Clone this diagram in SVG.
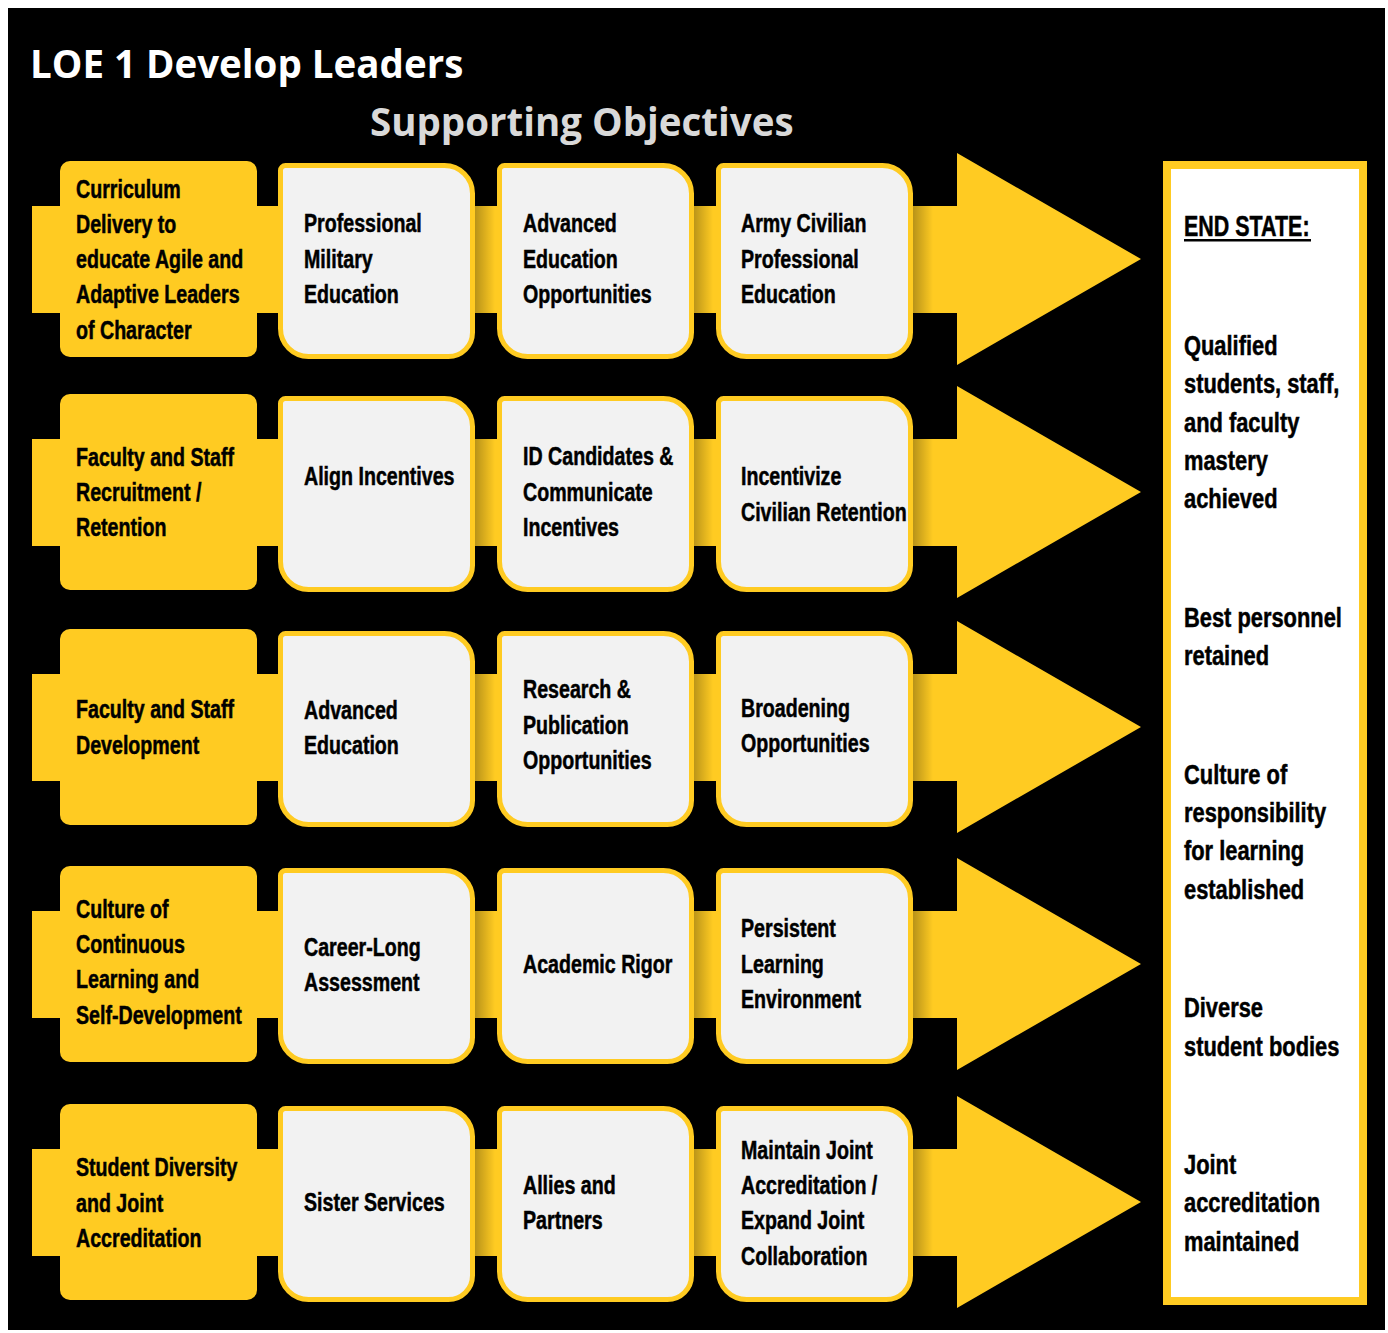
<svg xmlns="http://www.w3.org/2000/svg" width="1388" height="1333" viewBox="0 0 1388 1333">
<defs>
<style>
.bg{fill:#000}
.yl{fill:#FFCB22}
.wb{fill:#F2F2F2;stroke:#FFCB22;stroke-width:5}
.t{font-family:"Liberation Sans",Arial,sans-serif;font-weight:700;font-size:25px;fill:#000;stroke:#000;stroke-width:0.5px}
.e{font-family:"Liberation Sans",Arial,sans-serif;font-weight:700;font-size:27px;fill:#000;stroke:#000;stroke-width:0.5px}
.h{font-family:"Open Sans","Noto Sans","Liberation Sans",sans-serif;font-weight:700;font-size:38.5px}
</style>
<linearGradient id="sh" x1="0" y1="0" x2="1" y2="0">
<stop offset="0" stop-color="#000" stop-opacity="0.28"/>
<stop offset="1" stop-color="#000" stop-opacity="0"/>
</linearGradient>
<path id="box" d="M5,0 H164 A28,28 0 0 1 192,28 V167 A24,24 0 0 1 168,191 H28 A28,28 0 0 1 0,163 V5 A5,5 0 0 1 5,0 Z"/>
<path id="arr" d="M32,45 H957 V-8 L1141,98 L957,204 V152 H32 Z"/>
</defs>
<rect x="0" y="0" width="1388" height="1333" fill="#fff"/>
<rect class="bg" x="8" y="8" width="1377" height="1322"/>
<text class="h" x="30" y="78" fill="#fff">LOE 1 Develop Leaders</text>
<text class="h" x="370" y="136" fill="#D9D9D9">Supporting Objectives</text>

<g id="connectors">
<use href="#arr" class="yl" transform="translate(0,161)"/>
<use href="#arr" class="yl" transform="translate(0,394)"/>
<use href="#arr" class="yl" transform="translate(0,629)"/>
<use href="#arr" class="yl" transform="translate(0,866)"/>
<use href="#arr" class="yl" transform="translate(0,1104)"/>
<g fill="url(#sh)">
<rect x="475" y="206" width="20" height="107"/><rect x="693" y="206" width="20" height="107"/><rect x="913" y="206" width="20" height="107"/>
<rect x="475" y="439" width="20" height="107"/><rect x="693" y="439" width="20" height="107"/><rect x="913" y="439" width="20" height="107"/>
<rect x="475" y="674" width="20" height="107"/><rect x="693" y="674" width="20" height="107"/><rect x="913" y="674" width="20" height="107"/>
<rect x="475" y="911" width="20" height="107"/><rect x="693" y="911" width="20" height="107"/><rect x="913" y="911" width="20" height="107"/>
<rect x="475" y="1149" width="20" height="107"/><rect x="693" y="1149" width="20" height="107"/><rect x="913" y="1149" width="20" height="107"/>
</g>
</g>

<!-- Row 1 -->
<g id="row1-goal"><rect class="yl" x="60" y="161" width="197" height="196" rx="10"/>
<g transform="translate(76,0) scale(0.785,1)"><text class="t"><tspan x="0" y="198">Curriculum</tspan><tspan x="0" y="233">Delivery to</tspan><tspan x="0" y="268">educate Agile and</tspan><tspan x="0" y="303">Adaptive Leaders</tspan><tspan x="0" y="339">of Character</tspan></text></g></g>
<g id="row1-a"><use href="#box" class="wb" transform="translate(280.5,165.5)"/>
<g transform="translate(304,0) scale(0.785,1)"><text class="t"><tspan x="0" y="232">Professional</tspan><tspan x="0" y="268">Military</tspan><tspan x="0" y="303">Education</tspan></text></g></g>
<g id="row1-b"><use href="#box" class="wb" transform="translate(499.5,165.5)"/>
<g transform="translate(523,0) scale(0.785,1)"><text class="t"><tspan x="0" y="232">Advanced</tspan><tspan x="0" y="268">Education</tspan><tspan x="0" y="303">Opportunities</tspan></text></g></g>
<g id="row1-c"><use href="#box" class="wb" transform="translate(718.5,165.5)"/>
<g transform="translate(741,0) scale(0.785,1)"><text class="t"><tspan x="0" y="232">Army Civilian</tspan><tspan x="0" y="268">Professional</tspan><tspan x="0" y="303">Education</tspan></text></g></g>

<!-- Row 2 -->
<g id="row2-goal"><rect class="yl" x="60" y="394" width="197" height="196" rx="10"/>
<g transform="translate(76,0) scale(0.785,1)"><text class="t"><tspan x="0" y="466">Faculty and Staff</tspan><tspan x="0" y="501">Recruitment /</tspan><tspan x="0" y="536">Retention</tspan></text></g></g>
<g id="row2-a"><use href="#box" class="wb" transform="translate(280.5,398.5)"/>
<g transform="translate(304,0) scale(0.785,1)"><text class="t"><tspan x="0" y="485">Align Incentives</tspan></text></g></g>
<g id="row2-b"><use href="#box" class="wb" transform="translate(499.5,398.5)"/>
<g transform="translate(523,0) scale(0.785,1)"><text class="t"><tspan x="0" y="465">ID Candidates &amp;</tspan><tspan x="0" y="501">Communicate</tspan><tspan x="0" y="536">Incentives</tspan></text></g></g>
<g id="row2-c"><use href="#box" class="wb" transform="translate(718.5,398.5)"/>
<g transform="translate(741,0) scale(0.785,1)"><text class="t"><tspan x="0" y="485">Incentivize</tspan><tspan x="0" y="521">Civilian Retention</tspan></text></g></g>

<!-- Row 3 -->
<g id="row3-goal"><rect class="yl" x="60" y="629" width="197" height="196" rx="10"/>
<g transform="translate(76,0) scale(0.785,1)"><text class="t"><tspan x="0" y="718">Faculty and Staff</tspan><tspan x="0" y="754">Development</tspan></text></g></g>
<g id="row3-a"><use href="#box" class="wb" transform="translate(280.5,633.5)"/>
<g transform="translate(304,0) scale(0.785,1)"><text class="t"><tspan x="0" y="719">Advanced</tspan><tspan x="0" y="754">Education</tspan></text></g></g>
<g id="row3-b"><use href="#box" class="wb" transform="translate(499.5,633.5)"/>
<g transform="translate(523,0) scale(0.785,1)"><text class="t"><tspan x="0" y="698">Research &amp;</tspan><tspan x="0" y="734">Publication</tspan><tspan x="0" y="769">Opportunities</tspan></text></g></g>
<g id="row3-c"><use href="#box" class="wb" transform="translate(718.5,633.5)"/>
<g transform="translate(741,0) scale(0.785,1)"><text class="t"><tspan x="0" y="717">Broadening</tspan><tspan x="0" y="752">Opportunities</tspan></text></g></g>

<!-- Row 4 -->
<g id="row4-goal"><rect class="yl" x="60" y="866" width="197" height="196" rx="10"/>
<g transform="translate(76,0) scale(0.785,1)"><text class="t"><tspan x="0" y="918">Culture of</tspan><tspan x="0" y="953">Continuous</tspan><tspan x="0" y="988">Learning and</tspan><tspan x="0" y="1024">Self-Development</tspan></text></g></g>
<g id="row4-a"><use href="#box" class="wb" transform="translate(280.5,870.5)"/>
<g transform="translate(304,0) scale(0.785,1)"><text class="t"><tspan x="0" y="956">Career-Long</tspan><tspan x="0" y="991">Assessment</tspan></text></g></g>
<g id="row4-b"><use href="#box" class="wb" transform="translate(499.5,870.5)"/>
<g transform="translate(523,0) scale(0.785,1)"><text class="t"><tspan x="0" y="973">Academic Rigor</tspan></text></g></g>
<g id="row4-c"><use href="#box" class="wb" transform="translate(718.5,870.5)"/>
<g transform="translate(741,0) scale(0.785,1)"><text class="t"><tspan x="0" y="937">Persistent</tspan><tspan x="0" y="973">Learning</tspan><tspan x="0" y="1008">Environment</tspan></text></g></g>

<!-- Row 5 -->
<g id="row5-goal"><rect class="yl" x="60" y="1104" width="197" height="196" rx="10"/>
<g transform="translate(76,0) scale(0.785,1)"><text class="t"><tspan x="0" y="1176">Student Diversity</tspan><tspan x="0" y="1212">and Joint</tspan><tspan x="0" y="1247">Accreditation</tspan></text></g></g>
<g id="row5-a"><use href="#box" class="wb" transform="translate(280.5,1108.5)"/>
<g transform="translate(304,0) scale(0.785,1)"><text class="t"><tspan x="0" y="1211">Sister Services</tspan></text></g></g>
<g id="row5-b"><use href="#box" class="wb" transform="translate(499.5,1108.5)"/>
<g transform="translate(523,0) scale(0.785,1)"><text class="t"><tspan x="0" y="1194">Allies and</tspan><tspan x="0" y="1229">Partners</tspan></text></g></g>
<g id="row5-c"><use href="#box" class="wb" transform="translate(718.5,1108.5)"/>
<g transform="translate(741,0) scale(0.785,1)"><text class="t"><tspan x="0" y="1159">Maintain Joint</tspan><tspan x="0" y="1194">Accreditation /</tspan><tspan x="0" y="1229">Expand Joint</tspan><tspan x="0" y="1265">Collaboration</tspan></text></g></g>

<!-- End state -->
<g id="end-state">
<rect x="1167" y="165" width="196" height="1136" fill="#fff" stroke="#FFCB22" stroke-width="8"/>
<g transform="translate(1184,0) scale(0.74,1)"><text class="e" x="0" y="236" style="font-size:29px">END STATE:</text></g>
<rect x="1184" y="239" width="127" height="2.5" fill="#000"/>
<g transform="translate(1184,0) scale(0.81,1)">
<text class="e"><tspan x="0" y="355">Qualified</tspan><tspan x="0" y="393">students, staff,</tspan><tspan x="0" y="432">and faculty</tspan><tspan x="0" y="470">mastery</tspan><tspan x="0" y="508">achieved</tspan></text>
<text class="e"><tspan x="0" y="627">Best personnel</tspan><tspan x="0" y="665">retained</tspan></text>
<text class="e"><tspan x="0" y="784">Culture of</tspan><tspan x="0" y="822">responsibility</tspan><tspan x="0" y="860">for learning</tspan><tspan x="0" y="899">established</tspan></text>
<text class="e"><tspan x="0" y="1017">Diverse</tspan><tspan x="0" y="1056">student bodies</tspan></text>
<text class="e"><tspan x="0" y="1174">Joint</tspan><tspan x="0" y="1212">accreditation</tspan><tspan x="0" y="1251">maintained</tspan></text>
</g>
</g>
</svg>
